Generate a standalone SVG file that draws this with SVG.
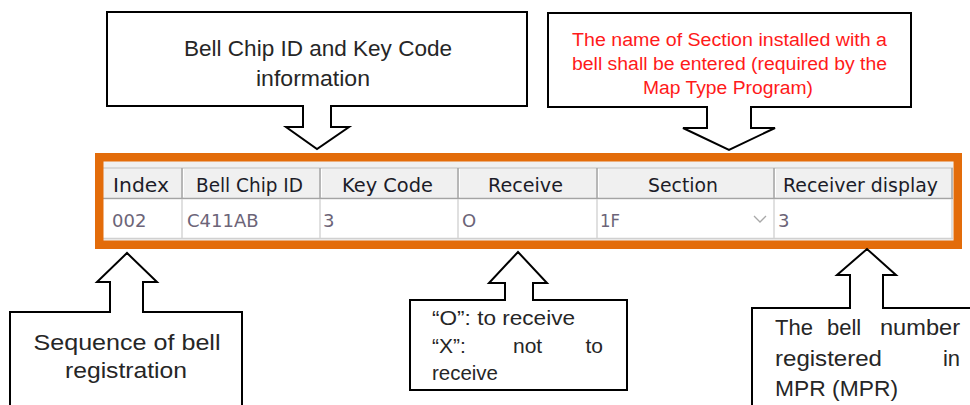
<svg xmlns="http://www.w3.org/2000/svg" width="970" height="405" viewBox="0 0 970 405">
  <style>
    .callout { fill: #ffffff; stroke: #000000; stroke-width: 2; stroke-linejoin: miter; }
    .ct { font-family: "Liberation Sans", Arial, sans-serif; font-size: 22px; fill: #262626; }
    .ctm { font-family: "Liberation Sans", Arial, sans-serif; font-size: 21px; fill: #262626; }
    .red { font-family: "Liberation Sans", Arial, sans-serif; font-size: 18px; fill: #ff1a1a; }
    .hd { font-family: "DejaVu Sans", Verdana, sans-serif; font-size: 19px; fill: #1c1c28; }
    .dt { font-family: "DejaVu Sans", Verdana, sans-serif; font-size: 18px; fill: #6c6478; }
    .hsep { stroke: #a4a4a4; stroke-width: 1.5; }
    .hsepl { stroke: #ffffff; stroke-width: 1; }
    .dsep { stroke: #d6d6d6; stroke-width: 1.5; }
  </style>

  <rect x="0" y="0" width="970" height="405" fill="#ffffff"/>

  <!-- Table (screenshot grid) -->
  <g id="table">
    <rect x="103" y="161" width="850" height="80" fill="#f0f0f0"/>
    <!-- header row -->
    <rect x="103" y="168" width="850" height="30" fill="#f0f0f0"/>
    <line x1="103" y1="168" x2="953" y2="168" stroke="#d0d0d0" stroke-width="1.5"/>
    <line x1="103" y1="198.5" x2="953" y2="198.5" stroke="#a4a4a4" stroke-width="1.5"/>
    <!-- data row -->
    <rect x="103" y="199.5" width="850" height="38.5" fill="#ffffff"/>
    <line x1="103" y1="238.5" x2="953" y2="238.5" stroke="#d0d0d0" stroke-width="1.5"/>
    <!-- header separators -->
    <g>
      <line class="hsep" x1="182" y1="168" x2="182" y2="198"/>
      <line class="hsep" x1="320" y1="168" x2="320" y2="198"/>
      <line class="hsep" x1="458" y1="168" x2="458" y2="198"/>
      <line class="hsep" x1="597" y1="168" x2="597" y2="198"/>
      <line class="hsep" x1="774" y1="168" x2="774" y2="198"/>
      <line class="hsep" x1="952" y1="168" x2="952" y2="198"/>
      <line class="hsepl" x1="183.5" y1="169" x2="183.5" y2="197"/>
      <line class="hsepl" x1="321.5" y1="169" x2="321.5" y2="197"/>
      <line class="hsepl" x1="459.5" y1="169" x2="459.5" y2="197"/>
      <line class="hsepl" x1="598.5" y1="169" x2="598.5" y2="197"/>
      <line class="hsepl" x1="775.5" y1="169" x2="775.5" y2="197"/>
    </g>
    <!-- data separators -->
    <g>
      <line class="dsep" x1="182" y1="199" x2="182" y2="238"/>
      <line class="dsep" x1="320" y1="199" x2="320" y2="238"/>
      <line class="dsep" x1="458" y1="199" x2="458" y2="238"/>
      <line class="dsep" x1="597" y1="199" x2="597" y2="238"/>
      <line class="dsep" x1="774" y1="199" x2="774" y2="238"/>
      <line class="dsep" x1="952" y1="199" x2="952" y2="238"/>
    </g>
    <!-- header texts -->
    <text class="hd" x="141" y="192" text-anchor="middle" textLength="56" lengthAdjust="spacingAndGlyphs">Index</text>
    <text class="hd" x="249.5" y="192" text-anchor="middle" textLength="107" lengthAdjust="spacingAndGlyphs">Bell Chip ID</text>
    <text class="hd" x="387.5" y="192" text-anchor="middle" textLength="91" lengthAdjust="spacingAndGlyphs">Key Code</text>
    <text class="hd" x="525.5" y="192" text-anchor="middle" textLength="75" lengthAdjust="spacingAndGlyphs">Receive</text>
    <text class="hd" x="683" y="192" text-anchor="middle" textLength="70" lengthAdjust="spacingAndGlyphs">Section</text>
    <text class="hd" x="860.5" y="192" text-anchor="middle" textLength="155" lengthAdjust="spacingAndGlyphs">Receiver display</text>
    <!-- data texts -->
    <text class="dt" x="112" y="227">002</text>
    <text class="dt" x="187" y="227">C411AB</text>
    <text class="dt" x="323" y="227">3</text>
    <text class="dt" x="462" y="227">O</text>
    <text class="dt" x="600" y="227" textLength="20" lengthAdjust="spacingAndGlyphs">1F</text>
    <path d="M754,216 L760,222 L766,216" fill="none" stroke="#a8a8a8" stroke-width="1.3"/>
    <text class="dt" x="778" y="227">3</text>
    <!-- orange frame -->
    <rect x="99.25" y="157.25" width="858.5" height="87.5" fill="none" stroke="#e36c0a" stroke-width="8.5"/>
  </g>

  <!-- Callout: Bell Chip ID and Key Code -->
  <g id="callout-chip">
    <path class="callout" d="M107,12 H527 V106 H331 V127 H349 L317,149 L286,127 H303 V106 H107 Z"/>
    <text class="ct" x="318" y="56" text-anchor="middle" textLength="268" lengthAdjust="spacingAndGlyphs">Bell Chip ID and Key Code</text>
    <text class="ct" x="313" y="86" text-anchor="middle" textLength="114" lengthAdjust="spacingAndGlyphs">information</text>
  </g>

  <!-- Callout: Section name -->
  <g id="callout-section">
    <path class="callout" d="M548,13 H911 V107 H751 V128 H775 L729,150 L683,128 H707 V107 H548 Z"/>
    <text class="red" x="729.5" y="46" text-anchor="middle" textLength="315" lengthAdjust="spacingAndGlyphs">The name of Section installed with a</text>
    <text class="red" x="729.5" y="70" text-anchor="middle" textLength="315" lengthAdjust="spacingAndGlyphs">bell shall be entered (required by the</text>
    <text class="red" x="728" y="94" text-anchor="middle" textLength="170" lengthAdjust="spacingAndGlyphs">Map Type Program)</text>
  </g>

  <!-- Callout: Sequence of bell registration -->
  <g id="callout-index">
    <path class="callout" d="M10,412 V312 H110 V282 H97 L127,253 L157,282 H143 V312 H242 V412 Z"/>
    <text class="ct" x="127" y="350" text-anchor="middle" textLength="187" lengthAdjust="spacingAndGlyphs">Sequence of bell</text>
    <text class="ct" x="126" y="378" text-anchor="middle" textLength="122" lengthAdjust="spacingAndGlyphs">registration</text>
  </g>

  <!-- Callout: Receive O/X -->
  <g id="callout-receive">
    <path class="callout" d="M410,390 V300 H505 V283 H489 L518,252 L547,283 H533 V300 H627 V390 Z"/>
    <text class="ctm" x="432" y="325" textLength="143" lengthAdjust="spacingAndGlyphs">“O”: to receive</text>
    <text class="ctm" x="432" y="353">“X”:</text>
    <text class="ctm" x="513" y="353">not</text>
    <text class="ctm" x="603" y="353" text-anchor="end">to</text>
    <text class="ctm" x="432" y="380" textLength="66" lengthAdjust="spacingAndGlyphs">receive</text>
  </g>

  <!-- Callout: Receiver display -->
  <g id="callout-display">
    <path class="callout" d="M752,412 V308 H850 V275 H837 L867,249 L896,275 H883 V308 H975 V412 Z"/>
    <text class="ct" x="775" y="335">The</text>
    <text class="ct" x="827" y="335">bell</text>
    <text class="ct" x="960" y="335" text-anchor="end" textLength="80" lengthAdjust="spacingAndGlyphs">number</text>
    <text class="ct" x="775" y="366" textLength="107" lengthAdjust="spacingAndGlyphs">registered</text>
    <text class="ct" x="960" y="366" text-anchor="end">in</text>
    <text class="ct" x="775" y="396" textLength="123" lengthAdjust="spacingAndGlyphs">MPR (MPR)</text>
  </g>
</svg>
